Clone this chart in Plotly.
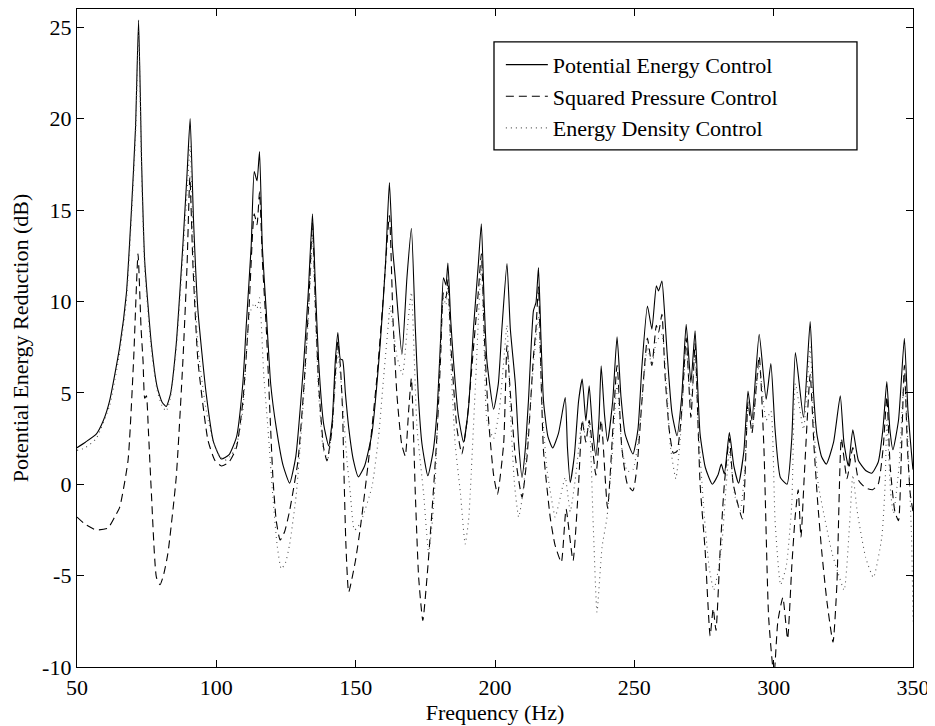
import plotly.graph_objects as go

# Potential Energy Control (solid)
pe_freq = [50, 53, 56.9, 59.5, 61.7, 65.3, 67.7, 69.5, 71.0, 72.1, 73.2, 74.3, 76.7, 78.8, 80.5, 82.0, 83.5, 85.6,
           88.0, 89.5, 90.6, 91.8, 93.4, 96.4, 99.0, 101.8, 104.5, 107.2, 109.5, 110.7, 112.5, 113.6, 114.6, 115.5,
           116.5, 117.9, 119.5, 121.5, 124.0, 126.3, 128.5, 131.2, 133.0, 134.5, 135.5, 136.7, 138.5, 140.3, 141.6,
           142.7, 143.6, 144.5, 145.3, 146.3, 147.5, 149.2, 151.0, 153.2, 155.8, 158.8, 160.7, 162.1, 163.2, 164.2,
           166.6, 168.4, 170.0, 171.4, 172.5, 173.8, 175.9, 177.8, 179.2, 180.5, 181.5, 182.4, 183.1, 184.1, 185.1,
           186.8, 188.7, 190.5, 192.3, 194.0, 195.1, 196.1, 197.1, 199.5, 201.2, 202.5, 204.3, 205.5, 207.3, 208.5,
           209.7, 210.8, 212.0, 213.8, 214.7, 215.6, 216.5, 217.4, 219.0, 220.7, 222.8, 225.2, 226.0, 227.0, 228.5,
           230.0, 231.3, 232.6, 233.8, 235.0, 236.2, 237.3, 238.1, 239.3, 240.4, 242.2, 243.8, 245.2, 246.7, 249.5,
           251.3, 252.7, 254.7, 256.3, 257.9, 258.7, 259.9, 260.8, 261.7, 263.5, 265.3, 267.0, 268.6, 270.3, 271.8,
           272.7, 273.6, 275.5, 278.0, 280.0, 281.2, 282.3, 284.1, 285.7, 287.4, 289.3, 290.8, 292.2, 294.8, 297.3,
           299.0, 300.5, 302.4, 304.8, 306.5, 307.8, 310.7, 313.1, 314.3, 315.5, 317.2, 318.9, 321.5, 323.9, 325.2,
           326.8, 328.4, 330.4, 333.0, 335.2, 337.5, 339.2, 340.6, 341.7, 342.8, 344.8, 346.9, 348.2, 349.8, 350]
pe_db = [2.0, 2.3, 2.74, 3.5, 4.56, 7.5, 10.4, 14.9, 19.5, 25.4, 17.5, 12.2, 7.66, 5.3, 4.5, 4.25, 4.9, 7.66,
         13.1, 17.0, 20.0, 14.5, 9.5, 4.9, 2.3, 1.38, 1.6, 2.56, 5.5, 8.6, 13.0, 17.1, 16.6, 18.2,
         13.0, 9.5, 5.5, 3.1, 1.0, 0.06, 1.5, 6.3, 10.5, 14.8, 11.0, 6.75, 3.3, 2.1, 3.5,
         6.75, 8.3, 6.85, 6.8, 5.0, 3.1, 1.3, 0.4, 1.0, 2.74, 7.66, 12.0, 16.5, 13.0, 11.3,
         7.1, 11.3, 14.0, 8.57, 4.8, 2.2, 0.46, 1.8, 4.0, 8.0, 11.3, 10.9, 12.1, 9.0, 6.75,
         3.8, 2.3, 4.2, 8.57, 12.0, 14.25, 10.0, 6.75, 4.1, 5.5, 8.57, 12.07, 8.5, 5.5, 2.2,
         0.37, 1.8, 4.56, 9.5, 9.93, 11.85, 8.0, 4.56, 2.6, 1.98, 2.8, 4.74, 2.0, 0.1, 1.6,
         4.56, 5.75, 3.47, 5.38, 3.0, 1.56, 3.5, 6.48, 3.8, 2.34, 4.5, 8.06, 4.8, 2.74, 1.65,
         3.0, 6.4, 9.75, 8.48, 10.85, 10.57, 11.12, 9.5, 7.3, 3.9, 2.65, 4.8, 8.75, 5.56, 8.39,
         5.5, 2.74, 0.9, 0.0, 0.5, 1.1, 0.56, 2.83, 1.0, 0.06, 1.8, 5.1, 3.5, 8.2, 4.65,
         6.6, 3.0, 0.37, 0.0, 2.5, 7.2, 3.65, 8.9, 5.0, 2.74, 1.5, 1.1, 2.3, 4.84, 2.3,
         1.0, 2.98, 1.3, 0.75, 0.6, 1.2, 3.0, 5.62, 3.0, 1.89, 3.5, 7.99, 4.0, 1.1, 0.8]

# Squared Pressure Control (dashed)
sp_freq = [50, 53, 56.9, 61.1, 63.5, 65.3, 68.3, 70.3, 71.9, 73.0, 73.7, 74.3, 74.9, 75.6, 76.7, 78.5, 79.8, 81.0,
           82.6, 85.6, 88.0, 89.5, 90.5, 91.6, 93.4, 97.0, 99.5, 101.8, 104.5, 107.2, 109.5, 111.4, 113.1, 113.6,
           114.6, 115.5, 116.6, 117.9, 120.3, 121.5, 122.9, 124.5, 126.3, 129.3, 131.5, 133.2, 134.5, 135.5, 136.7,
           138.5, 139.7, 141.5, 142.7, 143.6, 144.5, 145.3, 145.7, 146.5, 147.5, 149.9, 151.7, 154.6, 157.6, 159.8,
           162.1, 163.4, 164.8, 166.5, 167.8, 169.0, 170.0, 171.4, 172.6, 174.1, 175.6, 177.4, 179.2, 180.5, 181.5,
           182.4, 183.1, 184.2, 186.3, 188.1, 190.0, 192.3, 194.0, 195.1, 196.2, 197.7, 199.5, 200.9, 203.1, 204.3,
           205.5, 207.3, 209.7, 211.5, 213.8, 214.7, 215.6, 216.5, 217.4, 219.8, 221.5, 223.8, 225.5, 228.0, 230.0,
           231.3, 232.6, 233.8, 236.2, 238.1, 240.4, 243.8, 245.5, 247.5, 249.5, 251.0, 252.7, 254.7, 256.3, 257.9,
           258.7, 259.9, 261.0, 262.5, 264.0, 265.3, 267.0, 268.6, 270.3, 271.8, 272.7, 273.6, 275.4, 277.2, 278.3,
           279.3, 280.8, 282.3, 284.1, 285.5, 288.8, 290.8, 292.2, 294.8, 296.5, 298.2, 300.1, 301.5, 303.3, 305.0,
           306.5, 307.7, 308.8, 309.8, 311.0, 313.1, 314.5, 315.8, 317.2, 319.1, 321.3, 322.7, 324.3, 326.3, 328.4,
           330.5, 333.0, 335.5, 337.5, 339.3, 340.6, 341.8, 343.5, 344.8, 345.8, 346.9, 348.0, 349.0, 350]
sp_db = [-1.8, -2.2, -2.5, -2.4, -1.8, -1.27, 1.28, 6.75, 12.6, 8.5, 6.75, 4.7, 4.84, 3.0, -0.5, -5.1, -5.5, -5.0,
         -3.8, 0.37, 6.75, 12.0, 16.8, 12.0, 6.75, 2.4, 1.3, 1.0, 1.2, 2.0, 4.5, 8.6, 14.0, 14.8,
         14.2, 16.0, 12.0, 8.6, 0.37, -2.0, -3.05, -2.6, -1.45, 1.28, 5.5, 10.0, 14.3, 10.0, 5.5,
         2.0, 1.28, 3.0, 6.0, 7.8, 6.5, 4.0, 1.28, -3.3, -5.9, -4.2, -2.36, 1.28, 5.8, 10.0,
         14.7, 9.0, 4.9, 2.2, 1.55, 4.0, 5.8, -0.5, -5.1, -7.46, -5.1, -1.45, 2.74, 7.0, 10.5,
         10.2, 11.2, 7.5, 3.1, 1.65, 3.5, 7.5, 10.5, 12.6, 8.0, 3.5, 0.5, -0.54, 2.2, 7.6,
         5.0, 1.5, -0.72, 1.5, 7.0, 8.5, 10.8, 6.0, 1.83, -1.8, -3.3, -4.27, -1.36, -4.18, 0.0,
         3.5, 2.3, 3.5, 0.5, 3.5, -1.3, 6.5, 2.0, 0.0, -0.36, 1.0, 4.5, 8.0, 6.5, 8.7,
         8.3, 9.3, 6.0, 3.0, 1.7, 1.8, 4.0, 8.0, 3.65, 7.7, 4.0, 0.0, -3.6, -8.3, -6.8,
         -8.0, -3.6, 0.0, 2.5, 0.0, -1.9, 4.5, 2.8, 7.0, 2.0, -7.3, -10.5, -7.5, -6.2, -8.46,
         -4.5, -1.8, -0.3, -2.9, 0.5, 6.0, 2.0, -1.0, -3.6, -6.4, -8.64, -5.45, 2.5, 0.3, 2.0,
         0.2, -0.2, -0.3, 0.0, 2.0, 4.8, 1.0, -1.5, -2.0, 1.5, 6.5, 2.0, -0.5, -1.5]

# Energy Density Control (dotted)
ed_freq = [50, 53, 56.9, 61.7, 65.3, 67.7, 69.5, 71.0, 72.1, 73.2, 74.3, 76.7, 78.8, 80.5, 82.0, 83.5, 85.6, 88.0,
           89.5, 90.6, 91.8, 93.4, 96.4, 99.0, 101.0, 103.0, 105.5, 107.5, 109.5, 111.9, 113.6, 114.6, 115.5, 117.0,
           118.5, 120.3, 121.8, 123.3, 124.8, 126.3, 128.7, 131.0, 133.0, 134.5, 135.5, 136.7, 138.5, 140.0, 141.5,
           142.7, 143.6, 144.5, 145.3, 146.9, 148.1, 149.5, 150.5, 152.0, 155.8, 158.2, 160.0, 161.8, 162.3, 163.5,
           164.8, 166.8, 168.5, 170.0, 171.0, 172.0, 174.4, 176.2, 177.5, 178.6, 179.8, 181.5, 182.4, 183.1, 184.2,
           185.7, 187.6, 189.3, 190.5, 191.1, 193.0, 195.1, 196.2, 197.1, 199.5, 201.5, 203.0, 204.3, 205.5, 207.0,
           208.5, 210.0, 212.0, 213.8, 215.6, 216.8, 218.5, 219.8, 221.6, 223.0, 225.2, 227.0, 229.0, 231.3, 232.6,
           233.8, 235.2, 236.6, 238.4, 240.2, 242.0, 243.8, 245.5, 247.5, 249.5, 251.5, 254.7, 256.3, 257.9, 259.9,
           261.5, 263.0, 264.9, 266.5, 268.6, 270.3, 271.8, 273.0, 275.0, 276.8, 278.5, 280.0, 281.4, 283.0, 284.1,
           285.5, 286.2, 288.0, 289.5, 290.8, 292.2, 294.8, 297.3, 299.0, 300.5, 302.5, 304.5, 306.5, 307.8, 310.7,
           313.1, 314.5, 316.0, 318.5, 321.0, 323.0, 325.3, 327.4, 328.4, 330.0, 333.0, 335.8, 338.8, 340.0, 340.6,
           342.0, 343.0, 345.0, 346.9, 348.5, 349.5, 350]
ed_db = [1.85, 2.0, 2.5, 4.3, 7.2, 10.0, 14.5, 19.0, 24.8, 17.0, 11.8, 7.3, 5.1, 4.3, 4.0, 4.7, 7.4, 12.5,
         16.0, 18.5, 12.5, 7.5, 4.0, 2.3, 1.6, 1.3, 1.6, 2.3, 4.0, 9.3, 9.9, 9.6, 10.2, 6.0,
         3.1, -0.7, -3.3, -4.63, -4.3, -3.3, -0.54, 4.0, 9.0, 13.5, 9.5, 5.0, 1.83, 1.4, 3.0,
         5.5, 7.2, 6.0, 4.5, 1.28, -0.54, -2.5, -2.4, -2.0, -0.17, 2.56, 5.8, 8.9, 9.8, 8.5,
         7.0, 6.0, 8.5, 10.5, 7.0, 3.1, -0.54, -3.8, -2.0, 0.37, 5.0, 10.2, 9.8, 10.8, 6.5,
         2.2, -0.5, -3.27, -2.0, -0.54, 5.5, 12.0, 7.0, 3.5, 2.5, 4.0, 6.5, 8.7, 4.0, 0.0,
         -1.8, -0.5, 3.0, 6.5, 9.2, 4.5, 1.0, -0.36, -1.8, -1.0, 0.37, -1.5, 0.5, 3.5, 2.5,
         3.3, -2.0, -7.0, -3.45, -1.8, 1.5, 5.5, 2.0, 0.7, 0.8, 2.5, 7.5, 6.5, 7.8, 8.2,
         5.5, 2.0, 0.3, 2.5, 7.5, 4.5, 7.0, 3.0, -1.5, -4.5, -5.8, -4.8, -3.3, 0.0, 1.8,
         0.0, -0.72, -1.45, 0.5, 4.3, 3.0, 6.5, 3.5, 4.0, -2.0, -5.5, -4.5, -1.1, 5.5, 3.0,
         7.5, 3.0, 0.0, -2.0, -3.8, -4.8, -5.8, -1.8, 0.5, -1.5, -4.0, -5.1, -2.9, 0.0, 3.5,
         -0.5, -1.6, 1.0, 6.0, 1.0, -3.0, -7.5]

x_ticks = [50, 100, 150, 200, 250, 300, 350]
y_ticks = [-10, -5, 0, 5, 10, 15, 20, 25]

FONT = "Liberation Serif, Times New Roman, serif"

fig = go.Figure()
fig.add_trace(go.Scatter(x=pe_freq, y=pe_db, mode="lines", name="Potential Energy Control",
                         line=dict(color="black", width=1.1, dash="solid", shape="spline", smoothing=0.5)))
fig.add_trace(go.Scatter(x=sp_freq, y=sp_db, mode="lines", name="Squared Pressure Control",
                         line=dict(color="black", width=1.1, dash="8px,5px", shape="spline", smoothing=0.5)))
fig.add_trace(go.Scatter(x=ed_freq, y=ed_db, mode="lines", name="Energy Density Control",
                         line=dict(color="#555555", width=1.1, dash="1px,4px", shape="spline", smoothing=0.5)))

axis_common = dict(showline=True, linecolor="black", linewidth=1.3, mirror="ticks",
                   ticks="inside", ticklen=7, tickcolor="black", tickwidth=1,
                   showgrid=False, zeroline=False, automargin=False,
                   tickfont=dict(family=FONT, size=22, color="black"))

fig.update_layout(
    width=927, height=718,
    paper_bgcolor="white", plot_bgcolor="white",
    margin=dict(l=69, r=22, t=1, b=59),
    font=dict(family=FONT, size=22, color="black"),
    xaxis=dict(range=[50, 350], tickvals=x_ticks, ticktext=[str(v) for v in x_ticks],
               ticklabelstandoff=0,
               title=dict(text="Frequency (Hz)", font=dict(family=FONT, size=22), standoff=4),
               **axis_common),
    yaxis=dict(range=[-10, 26], tickvals=y_ticks, ticktext=[str(v) for v in y_ticks],
               title=dict(text="Potential Energy Reduction (dB)", font=dict(family=FONT, size=22), standoff=10),
               **axis_common),
    legend=dict(x=0.507, y=0.947, xanchor="left", yanchor="top",
                bgcolor="rgba(255,255,255,0)", borderwidth=0,
                font=dict(family=FONT, size=22, color="black"),
                itemwidth=42, tracegroupgap=0),
    shapes=[dict(type="rect", xref="paper", yref="paper", x0=0.4988, x1=0.933, y0=0.786, y1=0.950,
                 line=dict(color="black", width=1.3), fillcolor="rgba(0,0,0,0)", layer="above")],
)

fig.write_html("out.html")
